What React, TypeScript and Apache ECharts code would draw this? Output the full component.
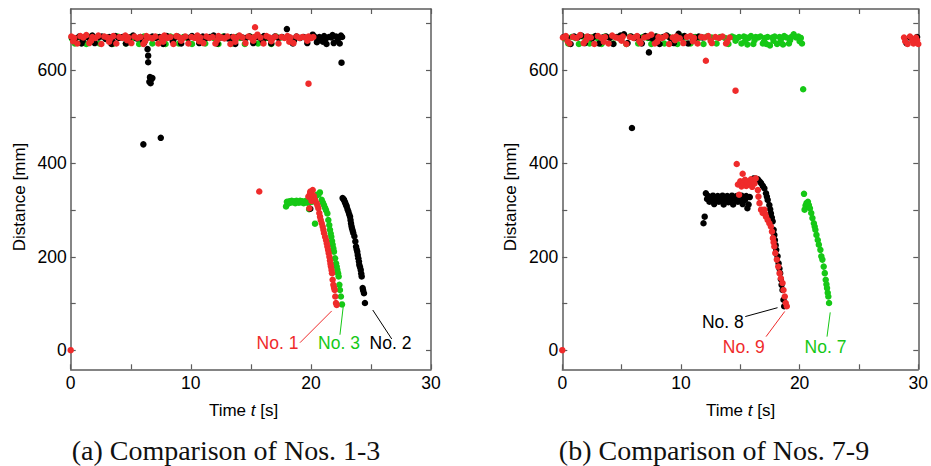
import React, { useEffect, useRef } from "react";
import * as echarts from "echarts";

// ---------- colours / fonts ----------
const RED = "#ef2b2b";
const GREEN = "#16c816";
const BLACK = "#000000";
const FRAME = "#5c5c5c";
const SANS = "'Liberation Sans', Arial, sans-serif";
const SERIF = "'Liberation Serif', 'Times New Roman', serif";

// ---------- axes ----------
const X_MIN = 0;
const X_MAX = 30;
const Y_MIN = -41;
const Y_MAX = 731;
const X_TICKS = [0, 5, 10, 15, 20, 25, 30];
const X_LABELS = [0, 10, 20, 30];
const Y_TICKS = [0, 100, 200, 300, 400, 500, 600, 700];
const Y_LABELS = [0, 200, 400, 600];

// ---------- panel (a): Nos. 1-3 ----------
const A_NO3_GREEN: number[][] = [
  [0.1,668],[0.35,657],[0.7,671],[1.0,669],[1.3,656],[1.7,672],[2.0,670],[2.4,657],[2.8,671],[3.1,668],
  [3.5,656],[3.9,672],[4.2,670],[4.6,657],[5.0,671],[5.3,669],[5.7,656],[6.1,672],[6.4,670],[6.8,657],
  [7.2,671],[7.5,669],[7.9,656],[8.3,672],[8.6,670],[9.0,657],[9.4,671],[9.7,669],[10.1,656],[10.5,672],
  [10.8,670],[11.2,657],[11.6,671],[11.9,669],[12.3,656],[12.7,672],[13.0,670],[13.4,657],[13.8,671],[14.1,669],
  [14.5,656],[14.9,672],[15.2,670],[15.6,657],[16.0,671],[16.3,669],[16.7,656],[17.1,672],[17.5,670],
  [17.93,308],[18.0,318],[18.1,314],[18.2,319],[18.3,316],[18.4,320],[18.5,317],[18.6,319],[18.7,315],[18.8,320],
  [18.9,318],[19.0,316],[19.1,320],[19.2,317],[19.3,319],[19.4,315],[19.5,318],[19.6,320],[19.7,316],[19.8,319],
  [19.85,302],[19.9,317],[20.0,320],[20.1,318],[20.2,321],[20.35,327],[20.34,271],[20.5,333],[20.62,333],[20.75,338],
  [20.9,322],[21.0,316],[21.09,311],[21.18,305],[21.26,300],[21.37,293],[21.45,279],[21.53,268],[21.59,258],[21.65,250],
  [21.7,243],[21.76,234],[21.81,226],[21.87,218],[21.92,211],[22.01,197],[22.09,186],[22.15,179],[22.2,172],[22.26,165],
  [22.31,158],[22.37,140],[22.42,129],[22.5,115],[22.59,98]
];
const A_NO2_BLACK: number[][] = [
  [0.1,670],[0.4,668],[0.7,672],[0.9,657],[1.2,671],[1.5,669],[1.8,674],[2.0,658],[2.3,670],[2.6,672],
  [2.9,667],[3.2,671],[3.4,656],[3.7,673],[4.0,669],[4.3,671],[4.6,657],[4.9,670],[5.2,674],[5.5,668],
  [5.8,671],[6.1,658],[6.4,670],[6.8,672],[7.1,669],[7.4,671],[7.7,656],[8.0,673],[8.3,670],[8.6,668],
  [8.9,672],[9.2,657],[9.5,671],[9.8,669],[10.1,673],[10.4,670],[10.7,658],[11.0,672],[11.3,669],[11.6,671],
  [11.9,674],[12.2,657],[12.5,670],[12.8,672],[13.1,668],[13.4,671],[13.7,656],[14.0,673],[14.3,670],[14.6,669],
  [14.9,672],[15.2,658],[15.5,671],[15.8,669],[16.1,673],[16.4,670],[16.7,657],[17.0,672],[17.3,669],[17.6,671],
  [18.0,688],[18.2,670],[18.5,657],[18.8,672],[19.1,669],[19.4,671],[19.7,658],[20.0,670],[20.3,672],[20.5,660],
  [20.7,671],[20.9,669],[21.1,673],[21.3,656],[21.5,671],[21.7,670],[21.9,658],[22.1,672],[22.3,669],[22.5,674],
  [22.6,671],[22.55,616],
  [1.0,663],[3.5,661],[6.0,664],[8.5,662],[11.0,661],[13.5,663],[16.0,662],[18.6,664],[21.0,661],[22.2,663],
  [20.15,676],[20.6,666],[21.2,665],[21.8,675],[22.4,657],
  [6.05,441],[6.4,645],[6.45,631],[6.45,617],[6.6,585],[6.7,580],[6.55,575],[6.8,583],[6.65,572],[7.5,455],
  [19.95,303],
  [22.64,326],[22.7,324],[22.76,322],[22.82,318],[22.87,315],[22.93,311],[22.98,308],[23.05,302],[23.12,297],[23.19,291],
  [23.26,286],[23.3,279],[23.34,272],[23.38,266],[23.42,261],[23.48,256],[23.53,251],[23.62,244],[23.7,233],[23.76,222],
  [23.81,216],[23.86,211],[23.9,204],[23.95,197],[24.0,190],[24.03,183],[24.09,178],[24.15,172],[24.19,164],[24.23,158],
  [24.31,133],[24.35,128],[24.42,122],[24.5,101]
];
const A_NO1_RED: number[][] = [
  [0,0],
  [0.05,672],[0.3,669],[0.55,657],[0.8,673],[1.05,670],[1.3,675],[1.55,658],[1.8,671],[2.05,669],[2.3,674],
  [2.55,656],[2.8,672],[3.05,670],[3.3,668],[3.55,673],[3.8,657],[4.05,671],[4.3,669],[4.55,674],[4.8,670],
  [5.05,658],[5.3,672],[5.55,669],[5.8,671],[6.05,656],[6.3,673],[6.55,670],[6.8,668],[7.05,672],[7.3,657],
  [7.55,670],[7.8,674],[8.05,669],[8.3,671],[8.55,656],[8.8,673],[9.05,670],[9.3,668],[9.55,672],[9.8,657],
  [10.05,671],[10.3,669],[10.55,674],[10.8,670],[11.05,658],[11.3,672],[11.55,669],[11.8,671],[12.05,657],[12.3,673],
  [12.55,670],[12.8,668],[13.05,672],[13.3,656],[13.55,671],[13.8,669],[14.05,674],[14.3,670],[14.55,658],[14.8,672],
  [15.05,669],[15.3,671],[15.35,692],[15.55,676],[15.8,670],[16.05,657],[16.3,673],[16.55,670],[16.8,668],[17.05,672],
  [17.3,657],[17.55,671],[17.8,669],[18.05,673],[18.3,670],[18.55,658],[18.8,672],[19.05,669],[19.3,671],[19.55,670],
  [19.8,672],[20.05,669],[20.2,671],[19.8,571],[15.7,340],
  [0.2,662],[1.7,663],[3.2,661],[4.7,664],[6.2,662],[7.7,661],[9.2,663],[10.7,662],[12.2,664],[13.7,661],
  [15.2,663],[16.7,662],[18.2,661],[19.7,663],
  [19.79,329],[19.87,304],[19.93,336],[19.95,340],[20.05,320],[20.07,329],[20.1,333],[20.15,343],[20.25,330],[20.34,322],
  [20.48,315],[20.55,310],[20.62,304],[20.7,294],[20.76,286],[20.82,279],[20.9,272],[20.98,265],[21.04,258],[21.09,251],
  [21.18,243],[21.26,236],[21.32,229],[21.37,222],[21.43,215],[21.48,208],[21.54,200],[21.59,192],[21.63,185],[21.67,179],
  [21.72,172],[21.76,165],[21.81,151],[21.87,140],[21.93,134],[21.98,129],[22.03,115],[22.09,101],[22.15,97]
];

// ---------- panel (b): Nos. 7-9 ----------
const B_NO7_GREEN: number[][] = [
  [0.2,668],[0.5,657],[0.8,671],[1.1,669],[1.4,656],[1.7,672],[2.0,670],[2.3,657],[2.6,671],[3.0,668],
  [3.3,656],[3.6,672],[4.0,670],[4.3,657],[4.7,671],[5.0,669],[5.4,656],[5.7,672],[6.1,670],[6.4,657],
  [6.8,671],[7.2,669],[7.5,656],[7.9,672],[8.2,670],[8.6,657],[9.0,671],[9.3,669],[9.7,656],[10.1,672],
  [10.4,670],[10.8,657],[11.2,671],[11.5,669],[11.9,656],[12.2,672],[12.6,670],[13.0,657],[13.3,671],[13.7,669],
  [14.0,656],[14.3,672],[14.5,670],[14.7,668],[14.9,671],[15.1,657],[15.3,672],[15.5,670],[15.6,655],[15.7,669],
  [15.9,673],[16.1,656],[16.3,671],[16.5,670],[16.7,672],[16.9,657],[17.1,669],[17.2,656],[17.3,671],[17.5,653],
  [17.7,670],[17.9,672],[18.1,656],[18.3,671],[18.5,669],[18.6,655],[18.7,673],[18.9,670],[19.1,657],[19.3,671],
  [19.5,677],[19.7,670],[19.9,672],[20.1,669],[20.2,657],[20.3,559],
  [14.6,663],[15.4,662],[16.2,664],[17.0,661],[17.8,663],[18.4,662],[19.2,664],[20.0,662],
  [20.37,335],[20.42,301],[20.5,310],[20.58,315],[20.7,318],[20.78,311],[20.87,304],[20.98,294],[21.08,283],[21.2,272],
  [21.27,265],[21.33,258],[21.42,247],[21.53,236],[21.62,226],[21.75,215],[21.83,201],[21.92,194],[22.03,179],[22.12,165],
  [22.2,151],[22.26,141],[22.31,133],[22.37,123],[22.42,115],[22.48,101]
];
const B_NO8_BLACK: number[][] = [
  [0.1,671],[0.4,669],[0.7,656],[1.0,672],[1.3,670],[1.6,674],[1.9,658],[2.2,671],[2.5,668],[2.8,673],
  [3.1,657],[3.4,670],[3.7,672],[4.0,669],[4.3,656],[4.6,671],[4.9,674],[5.2,677],[5.5,658],[5.8,672],
  [6.1,669],[6.4,671],[6.7,657],[7.0,673],[7.3,670],[7.6,668],[7.9,672],[8.2,656],[8.5,671],[8.8,674],
  [9.1,669],[9.4,658],[9.8,678],[10.0,670],[10.3,673],[10.6,657],[10.9,671],[11.2,669],[11.5,672],[11.8,670],
  [5.87,476],[7.3,638],
  [29.0,658],[29.3,670],[29.6,664],[29.9,671],
  [11.9,272],[12.0,286],
  [12.1,336],[12.2,324],[12.3,330],[12.4,318],[12.5,328],[12.6,322],[12.7,331],[12.8,313],[12.9,327],[13.0,323],
  [13.1,330],[13.2,318],[13.3,326],[13.4,321],[13.5,331],[13.6,312],[13.7,328],[13.8,323],[13.9,330],[14.0,317],
  [14.1,327],[14.2,321],[14.3,331],[14.4,312],[14.5,328],[14.6,323],[14.7,330],[14.8,318],[14.9,326],[15.0,320],
  [15.1,331],[15.2,313],[15.3,327],[15.4,322],[15.5,330],[15.6,304],[15.7,312],[15.8,328],
  [15.78,361],[16.14,368],[16.33,367],[16.48,366],[16.62,362],[16.75,358],[16.9,352],[17.03,347],[17.17,336],[17.24,329],
  [17.31,322],[17.45,311],[17.52,302],[17.58,293],[17.66,284],[17.73,276],[17.81,258],[17.87,247],[17.92,236],[17.98,225],
  [18.03,215],[18.14,201],[18.23,186],[18.3,175],[18.36,165],[18.42,152],[18.48,140],[18.56,129],[18.64,108],[18.7,94]
];
const B_NO9_RED: number[][] = [
  [0,0],
  [0.05,670],[0.3,673],[0.6,657],[0.9,671],[1.2,669],[1.5,675],[1.8,658],[2.1,672],[2.4,670],[2.7,656],
  [3.0,673],[3.3,669],[3.6,671],[3.9,657],[4.2,674],[4.5,670],[4.8,668],[5.1,672],[5.4,656],[5.7,671],
  [6.0,669],[6.3,673],[6.6,658],[6.9,670],[7.2,672],[7.5,676],[7.8,657],[8.1,671],[8.4,669],[8.7,673],
  [9.0,656],[9.3,670],[9.6,672],[9.9,668],[10.2,658],[10.5,671],[10.8,673],[11.1,669],[11.4,657],[11.7,671],
  [12.0,670],[12.3,673],[12.6,658],[12.9,671],[13.2,669],[13.5,672],[13.8,657],[14.1,670],
  [0.45,662],[2.0,664],[3.5,661],[5.0,663],[6.5,662],[8.0,661],[9.5,664],[11.0,662],[12.5,663],[13.9,661],
  [12.1,620],[14.6,556],[14.7,399],[15.2,378],[14.9,333],
  [28.8,670],[28.9,662],[29.1,656],[29.3,672],[29.5,663],[29.6,657],[29.8,670],[29.9,664],[30.0,656],
  [14.8,355],[15.0,362],[15.1,351],[15.3,358],[15.4,365],[15.5,352],[15.6,360],[15.8,356],[15.9,366],[16.0,350],
  [16.1,362],[16.2,357],[16.3,368],
  [16.48,343],[16.53,329],[16.62,315],[16.75,301],[16.89,294],[17.03,301],[17.1,292],[17.17,286],[17.31,279],[17.45,272],
  [17.58,265],[17.67,254],[17.75,240],[17.81,231],[17.87,222],[17.95,208],[18.08,194],[18.2,179],[18.31,165],[18.42,154],
  [18.56,144],[18.64,129],[18.75,115],[18.83,101],[18.92,94]
];

// ---------- annotation leader lines (data coordinates) ----------
const LEAD_NO1 = [[19.09, 16], [21.73, 84]];
const LEAD_NO3 = [[22.42, 33], [22.7, 95]];
const LEAD_NO2 = [[25.15, 86], [26.73, 24]];
const LEAD_NO8 = [[15.42, 72], [18.14, 91]];
const LEAD_NO9 = [[17.17, 29], [18.75, 83]];
const LEAD_NO7 = [[22.31, 29], [22.58, 81]];

const GRIDS = [
  { left: 70.7, top: 9, width: 360.3, height: 360.3 },
  { left: 562.3, top: 9, width: 360, height: 360.3 },
];

function xAxes(gi: number) {
  const base = {
    type: "value",
    gridIndex: gi,
    min: X_MIN,
    max: X_MAX,
    axisLine: { show: true, onZero: false, lineStyle: { color: FRAME, width: 1.5 } },
    axisTick: { show: true, inside: true, length: 5, customValues: X_TICKS, lineStyle: { color: FRAME, width: 1.2 } },
    splitLine: { show: false },
  };
  return [
    {
      ...base,
      position: "bottom",
      axisLabel: { show: true, customValues: X_LABELS, color: "#000", fontSize: 17.5, fontFamily: SANS, margin: 5 },
    },
    { ...base, position: "top", axisLabel: { show: false } },
  ];
}
function yAxes(gi: number) {
  const base = {
    type: "value",
    gridIndex: gi,
    min: Y_MIN,
    max: Y_MAX,
    axisLine: { show: true, onZero: false, lineStyle: { color: FRAME, width: 1.5 } },
    axisTick: { show: true, inside: true, length: 5, customValues: Y_TICKS, lineStyle: { color: FRAME, width: 1.2 } },
    splitLine: { show: false },
  };
  return [
    {
      ...base,
      position: "left",
      axisLabel: { show: true, customValues: Y_LABELS, color: "#000", fontSize: 17.5, fontFamily: SANS, margin: 4 },
    },
    { ...base, position: "right", axisLabel: { show: false } },
  ];
}

function scatter(name: string, data: number[][], color: string, axis: number, lead: number[][]) {
  return {
    name,
    type: "scatter",
    xAxisIndex: axis,
    yAxisIndex: axis,
    data,
    symbol: "circle",
    symbolSize: 6.5,
    clip: false,
    silent: true,
    itemStyle: { color, opacity: 1 },
    markLine: {
      silent: true,
      symbol: ["none", "none"],
      label: { show: false },
      lineStyle: { color, type: "solid", width: 1 },
      data: [[{ coord: lead[0] }, { coord: lead[1] }]],
    },
  };
}

function label(text: string, x: number, y: number, color: string) {
  return {
    type: "text",
    x,
    y,
    style: { text, fill: color, font: `17.5px ${SANS}`, align: "center", verticalAlign: "middle" },
  };
}

function timeName(x: number) {
  return {
    type: "text",
    x,
    y: 410,
    style: {
      text: "{n|Time }{i|t}{n| [s]}",
      align: "center",
      verticalAlign: "middle",
      rich: {
        n: { fontSize: 17, fontFamily: SANS, fill: "#000" },
        i: { fontSize: 17, fontFamily: SANS, fontStyle: "italic", fill: "#000" },
      },
    },
  };
}

function distName(x: number) {
  return {
    type: "text",
    x,
    y: 197,
    rotation: Math.PI / 2,
    style: { text: "Distance [mm]", fill: "#000", font: `17px ${SANS}`, align: "center", verticalAlign: "middle" },
  };
}

function caption(text: string, x: number) {
  return {
    type: "text",
    x,
    y: 450,
    style: { text, fill: "#111", font: `28px ${SERIF}`, align: "center", verticalAlign: "middle" },
  };
}

export default function App() {
  const ref = useRef<HTMLDivElement>(null);
  useEffect(() => {
    const chart = echarts.init(ref.current as HTMLDivElement, null, { renderer: "svg" });
    const xa = [...xAxes(0), ...xAxes(1)];
    const ya = [...yAxes(0), ...yAxes(1)];
    chart.setOption({
      animation: false,
      backgroundColor: "#ffffff",
      grid: GRIDS,
      xAxis: xa,
      yAxis: ya,
      series: [
        scatter("No. 3", A_NO3_GREEN, GREEN, 0, LEAD_NO3),
        scatter("No. 2", A_NO2_BLACK, BLACK, 0, LEAD_NO2),
        scatter("No. 1", A_NO1_RED, RED, 0, LEAD_NO1),
        scatter("No. 7", B_NO7_GREEN, GREEN, 2, LEAD_NO7),
        scatter("No. 8", B_NO8_BLACK, BLACK, 2, LEAD_NO8),
        scatter("No. 9", B_NO9_RED, RED, 2, LEAD_NO9),
      ],
      graphic: [
        label("No. 1", 277.5, 343, RED),
        label("No. 3", 339, 343, GREEN),
        label("No. 2", 390.5, 343, BLACK),
        label("No. 8", 722.8, 322, BLACK),
        label("No. 9", 743.7, 347, RED),
        label("No. 7", 825.5, 347, GREEN),
        timeName(243.5),
        timeName(740.5),
        distName(19),
        distName(510),
        caption("(a) Comparison of Nos. 1-3", 226),
        caption("(b) Comparison of Nos. 7-9", 714),
      ],
    });
    return () => chart.dispose();
  }, []);
  return (
    <div
      ref={ref}
      style={{ position: "fixed", left: 0, top: 0, width: 931, height: 466, background: "#fff" }}
    />
  );
}
